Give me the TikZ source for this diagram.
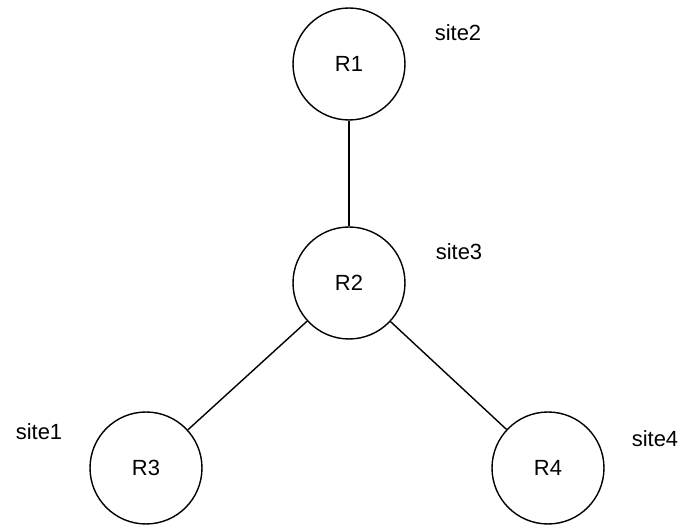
\documentclass[tikz,border=0pt]{standalone}
\usepackage{fontspec}
\setmainfont{Liberation Sans}
\begin{document}
\begin{tikzpicture}[x=0.02cm,y=-0.02cm]
\tikzset{router/.style={draw,circle,line width=0.8pt,minimum size=2.24cm,inner sep=0pt,font=\fontsize{12.5}{15}\selectfont},
         site/.style={font=\fontsize{12.5}{15}\selectfont}}
\useasboundingbox (0,0) rectangle (684,526);
\node[router] (R1) at (349,64) {R1};
\node[router] (R2) at (349,283) {R2};
\node[router] (R3) at (146,468) {R3};
\node[router] (R4) at (548,468) {R4};
\node[site] (s2) at (458,33) {site2};
\node[site] (s3) at (459,252) {site3};
\node[site] (s1) at (39,432) {site1};
\node[site] (s4) at (655,439) {site4};
\draw[line width=0.8pt] (R1) -- (R2);
\draw[line width=0.8pt] (R2) -- (R3);
\draw[line width=0.8pt] (R2) -- (R4);
\end{tikzpicture}
\end{document}
